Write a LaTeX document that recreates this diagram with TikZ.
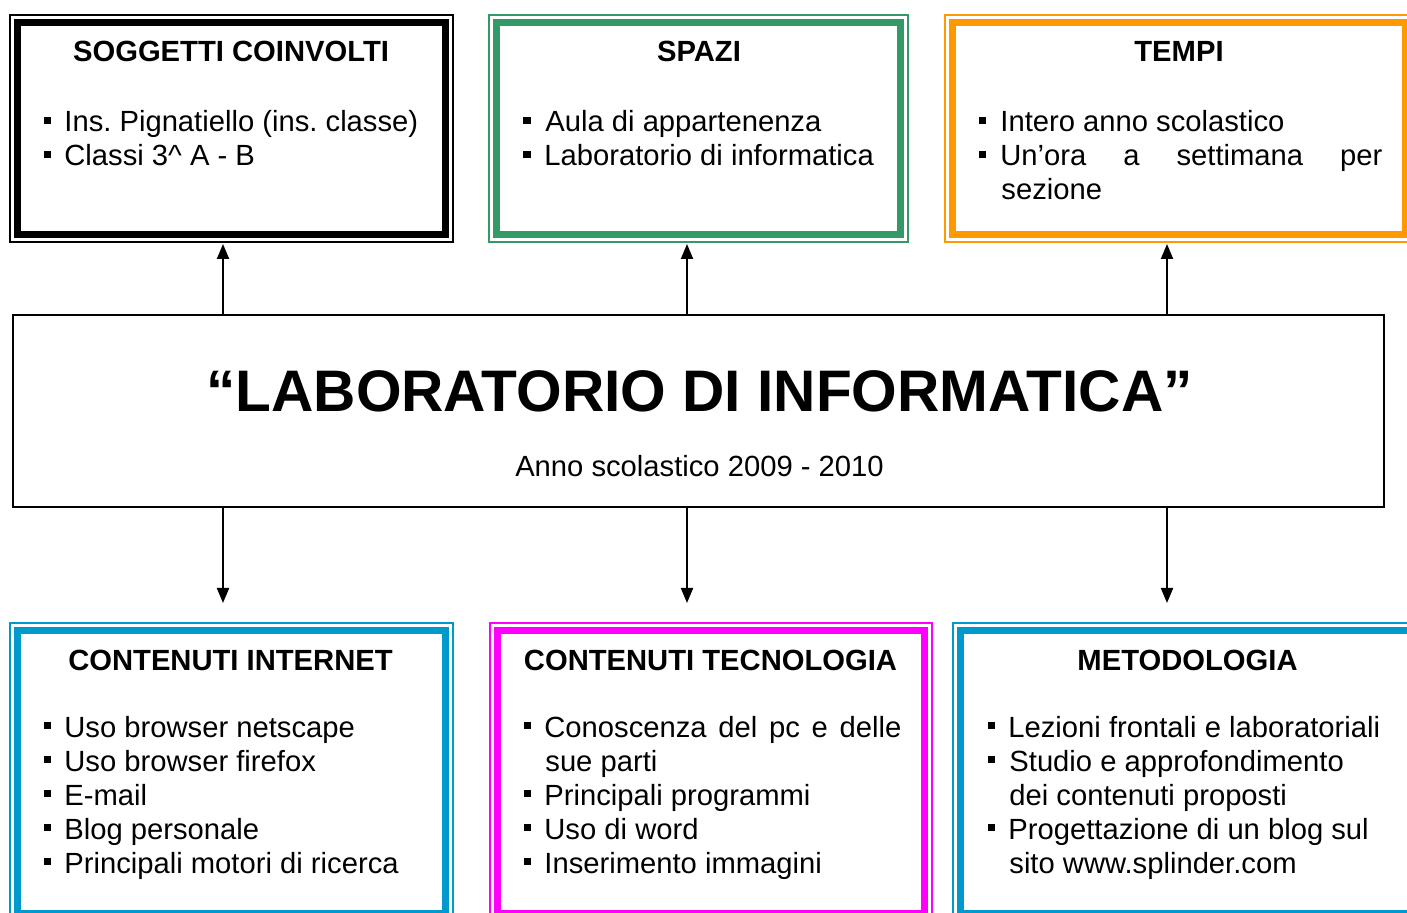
\documentclass[tikz,border=0pt]{standalone}
\usepackage{fontspec}
\setmainfont{Liberation Sans}
\usetikzlibrary{arrows.meta}
\frenchspacing
\definecolor{cgreen}{HTML}{339966}
\definecolor{corange}{HTML}{FF9900}
\definecolor{cblue}{HTML}{0099CC}
\definecolor{cmag}{HTML}{FF00FF}
\tikzset{
  rim/.style={draw=#1, line width=0.75pt, outer sep=0pt, inner sep=0pt},
  frame/.style={draw=#1, line width=3.5pt, outer sep=0pt, inner sep=0pt},
  arr/.style={line width=1pt, -{Triangle[width=6pt,length=7.5pt]}},
  sq/.style={fill=black, minimum size=3.6pt, inner sep=0pt, outer sep=0pt},
  ttl/.style={anchor=base, inner sep=0pt, font=\fontsize{14.6}{17}\selectfont\bfseries},
  txt/.style={anchor=base west, inner sep=0pt, font=\fontsize{14.6}{17}\selectfont\frenchspacing},
}
\begin{document}
\begin{tikzpicture}[x=0.5pt,y=-0.5pt]
\useasboundingbox (0,0) rectangle (1407,913);
\clip (0,0) rectangle (1407,913);
% top boxes
\node[rim=black, minimum width=221.5pt, minimum height=113.5pt] (sog) at (231.5,128.5) {};
\node[frame=black, minimum width=214pt, minimum height=106pt] (sogi) at (sog.center) {};
\node[rim=cgreen, minimum width=209.5pt, minimum height=113.5pt] (spa) at (698.5,128.5) {};
\node[frame=cgreen, minimum width=202pt, minimum height=106pt] (spai) at (spa.center) {};
\node[rim=corange, minimum width=234pt, minimum height=113.5pt] (tem) at (1179,128.5) {};
\node[frame=corange, minimum width=226.5pt, minimum height=106pt] (temi) at (tem.center) {};
% bottom boxes
\node[rim=cblue, minimum width=221.5pt, minimum height=149pt] (int) at (231.5,772) {};
\node[frame=cblue, minimum width=214pt, minimum height=141.5pt] (inti) at (int.center) {};
\node[rim=cmag, minimum width=221pt, minimum height=149pt] (tec) at (711,772) {};
\node[frame=cmag, minimum width=213.5pt, minimum height=141.5pt] (teci) at (tec.center) {};
\node[rim=cblue, minimum width=236pt, minimum height=149pt] (met) at (1189,772) {};
\node[frame=cblue, minimum width=228.5pt, minimum height=141.5pt] (meti) at (met.center) {};
% center box
\node[draw=black, line width=1pt, outer sep=0pt, minimum width=685.5pt, minimum height=96pt] (lab) at (698.5,411) {};
\node[anchor=base, inner sep=0pt, font=\fontsize{29.3}{32}\selectfont\bfseries] (labt) at (699.5,412) {“LABORATORIO DI INFORMATICA”};
\node[anchor=base, inner sep=0pt, font=\fontsize{14.6}{17}\selectfont] (labs) at (699.5,477) {Anno scolastico 2009 - 2010};
% arrows
\coordinate (a1) at (223,0);
\coordinate (a2) at (687,0);
\coordinate (a3) at (1167,0);
\draw[arr, shorten >=1pt] (lab.north -| a1) -- (a1 |- sog.south);
\draw[arr, shorten >=1pt] (lab.north -| a2) -- (a2 |- spa.south);
\draw[arr, shorten >=1pt] (lab.north -| a3) -- (a3 |- tem.south);
\draw[arr, shorten >=10pt] (lab.south -| a1) -- (a1 |- int.north);
\draw[arr, shorten >=10pt] (lab.south -| a2) -- (a2 |- tec.north);
\draw[arr, shorten >=10pt] (lab.south -| a3) -- (a3 |- met.north);
% box 1 text
\node[ttl] (t1) at (231,62) {SOGGETTI COINVOLTI};
\node[sq] (b11) at (47.5,120.5) {};
\node[txt] (l11) at (64,132) {Ins. Pignatiello (ins. classe)};
\node[sq] (b12) at (47.5,154.5) {};
\node[txt] (l12) at (64,166) {Classi 3\^{} A - B};
% box 2 text
\node[ttl] (t2) at (699,62) {SPAZI};
\node[sq] (b21) at (527,120.5) {};
\node[txt] (l21) at (545,132) {Aula di appartenenza};
\node[sq] (b22) at (527,154.5) {};
\node[txt] (l22) at (544,166) {Laboratorio di informatica};
% box 3 text
\node[ttl] (t3) at (1179,62) {TEMPI};
\node[sq] (b31) at (982.5,120.5) {};
\node[txt] (l31) at (1000,132) {Intero anno scolastico};
\node[sq] (b32) at (982.5,154.5) {};
\node[txt] (l32) at (1000,166) {\makebox[191pt][s]{Un’ora a settimana per}};
\node[txt] (l33) at (1001,200) {sezione};
% box 4 text
\node[ttl] (t4) at (230.5,670) {CONTENUTI INTERNET};
\node[sq] (b41) at (47.5,725.5) {};
\node[txt] (l41) at (64,737) {Uso browser netscape};
\node[sq] (b42) at (47.5,759.5) {};
\node[txt] (l42) at (64,771) {Uso browser firefox};
\node[sq] (b43) at (47.5,793.5) {};
\node[txt] (l43) at (64,805) {E-mail};
\node[sq] (b44) at (47.5,827.5) {};
\node[txt] (l44) at (64,839) {Blog personale};
\node[sq] (b45) at (47.5,861.5) {};
\node[txt] (l45) at (64,873) {Principali motori di ricerca};
% box 5 text
\node[ttl] (t5) at (710.5,670) {CONTENUTI TECNOLOGIA};
\node[sq] (b51) at (527.5,725.5) {};
\node[txt] (l51) at (544,737) {\makebox[178.5pt][s]{Conoscenza del pc e delle}};
\node[txt] (l52) at (545,771) {sue parti};
\node[sq] (b52) at (527.5,793.5) {};
\node[txt] (l53) at (544,805) {Principali programmi};
\node[sq] (b53) at (527.5,827.5) {};
\node[txt] (l54) at (544,839) {Uso di word};
\node[sq] (b54) at (527.5,861.5) {};
\node[txt] (l55) at (544,873) {Inserimento immagini};
% box 6 text
\node[ttl] (t6) at (1187.5,670) {METODOLOGIA};
\node[sq] (b61) at (991.5,725.5) {};
\node[txt] (l61) at (1008,737) {Lezioni frontali e laboratoriali};
\node[sq] (b62) at (991.5,759.5) {};
\node[txt] (l62) at (1009,771) {Studio e approfondimento};
\node[txt] (l63) at (1009,805) {dei contenuti proposti};
\node[sq] (b63) at (991.5,827.5) {};
\node[txt] (l64) at (1008,839) {Progettazione di un blog sul};
\node[txt] (l65) at (1009,873) {sito www.splinder.com};
\end{tikzpicture}
\end{document}
